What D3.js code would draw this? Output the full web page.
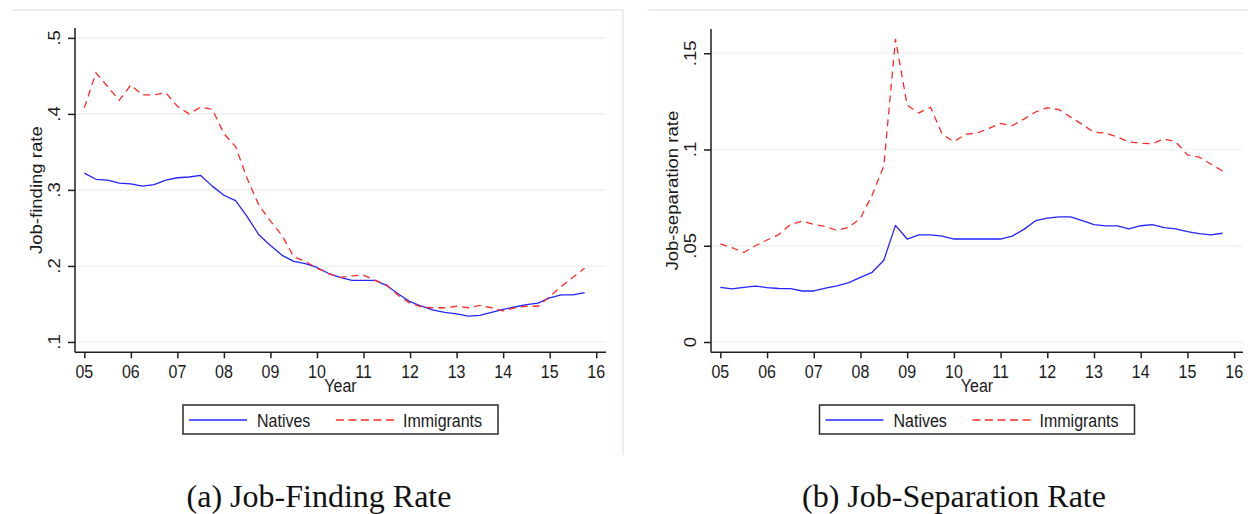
<!DOCTYPE html>
<html>
<head>
<meta charset="utf-8">
<script src="https://cdn.jsdelivr.net/npm/d3@7/dist/d3.min.js"></script>
<style>
  html, body { margin: 0; padding: 0; background: #fff; }
  svg { display: block; }
  .sans { font-family: "Liberation Sans", Arial, sans-serif; fill: #1a1a1a; }
  .serif { font-family: "Liberation Serif", "Times New Roman", serif; fill: #111; }
</style>
</head>
<body>
<svg id="chart" width="1248" height="514"></svg>
<script>
// Quarterly observations, 2005q1 – 2015q4
const quarters = [
  "2005q1","2005q2","2005q3","2005q4","2006q1","2006q2","2006q3","2006q4",
  "2007q1","2007q2","2007q3","2007q4","2008q1","2008q2","2008q3","2008q4",
  "2009q1","2009q2","2009q3","2009q4","2010q1","2010q2","2010q3","2010q4",
  "2011q1","2011q2","2011q3","2011q4","2012q1","2012q2","2012q3","2012q4",
  "2013q1","2013q2","2013q3","2013q4","2014q1","2014q2","2014q3","2014q4",
  "2015q1","2015q2","2015q3","2015q4"
];

// Job-finding rate
const findingNatives = [
  .322, .314, .313, .309, .308, .305, .307, .313,
  .316, .317, .319, .305, .293, .286, .265, .241,
  .227, .214, .206, .203, .198, .190, .185, .181,
  .181, .181, .174, .163, .153, .147, .142, .139,
  .137, .134, .135, .139, .143, .146, .149, .151,
  .158, .162, .162, .165
];
const findingImmigrants = [
  .408, .454, .436, .418, .438, .425, .425, .428,
  .410, .400, .409, .406, .374, .357, .315, .280,
  .259, .240, .212, .206, .197, .190, .185, .187,
  .188, .181, .175, .161, .151, .146, .145, .145,
  .147, .145, .148, .145, .141, .145, .147, .147,
  .160, .173, .185, .197
];

// Job-separation rate
const separationNatives = [
  .0284, .0276, .0284, .0290, .0283, .0278, .0277, .0265,
  .0265, .0280, .0292, .0308, .0336, .0362, .0425, .0606,
  .0535, .0556, .0556, .0550, .0535, .0535, .0535, .0535,
  .0535, .0550, .0585, .0630, .0643, .0650, .0650, .0630,
  .0610, .0603, .0603, .0588, .0604, .0610, .0594, .0588,
  .0573, .0563, .0556, .0565
];
const separationImmigrants = [
  .0510, .0490, .0465, .0500, .0530, .0558, .0610, .0628,
  .0611, .0600, .0580, .0596, .0643, .0764, .0915, .1575,
  .1230, .1190, .1220, .1080, .1040, .1080, .1085, .1110,
  .1136, .1124, .1158, .1195, .1217, .1207, .1168, .1130,
  .1090, .1085, .1065, .1040, .1032, .1030, .1055, .1040,
  .0972, .0960, .0925, .0888
];

// Axis ticks
const yearTicks = [2005, 2006, 2007, 2008, 2009, 2010, 2011, 2012, 2013, 2014, 2015, 2016];
const yearLabels = ["05","06","07","08","09","10","11","12","13","14","15","16"];
const findingTicks = [0.1, 0.2, 0.3, 0.4, 0.5];
const findingTickLabels = [".1", ".2", ".3", ".4", ".5"];
const separationTicks = [0, 0.05, 0.10, 0.15];
const separationTickLabels = ["0", ".05", ".1", ".15"];

const seriesNames = ["Natives", "Immigrants"];
const seriesColors = ["#2424ff", "#ff2a2a"];

const svg = d3.select("#chart");
const TEXT_STRETCH = 1.16;

function quarterToTime(q) {
  const y = +q.slice(0, 4), k = +q.slice(5);
  return y + (k - 1) / 4;
}
const times = quarters.map(quarterToTime);

function drawPanel(cfg) {
  const g = svg.append("g");

  // graph region edge (top and right sides)
  const [fx, fy, fw, fh] = cfg.frame;
  g.append("path")
    .attr("d", `M${fx},${fy}H${fx + fw}V${fy + fh}`)
    .attr("fill", "none").attr("stroke", "#e4eced").attr("stroke-width", 1.5);

  const x = d3.scaleLinear().domain(cfg.xDomain).range([cfg.left, cfg.right]);
  const y = d3.scaleLinear().domain(cfg.yDomain).range([cfg.bottom, cfg.top]);

  // horizontal grid
  g.selectAll(".grid").data(cfg.yTicks).enter().append("line")
    .attr("x1", cfg.left).attr("x2", cfg.right)
    .attr("y1", d => y(d)).attr("y2", d => y(d))
    .attr("stroke", "#edf2f3").attr("stroke-width", 1.6);

  // y axis
  const yAxis = d3.axisLeft(y).tickValues(cfg.yTicks).tickSize(7).tickFormat("");
  const ya = g.append("g").attr("transform", `translate(${cfg.left},0)`).call(yAxis);
  ya.select(".domain").attr("d", `M0,${cfg.top}V${cfg.bottom}`);
  ya.selectAll("path,line").attr("stroke", "#1e1e1e").attr("stroke-width", 1.5);

  cfg.yTicks.forEach((t, i) => {
    g.append("text").attr("class", "sans")
      .attr("transform", `translate(${cfg.left - 21},${y(t)}) rotate(-90) scale(${TEXT_STRETCH},1)`)
      .attr("text-anchor", "middle").attr("dy", "0.36em")
      .style("font-size", "16px").text(cfg.yTickLabels[i]);
  });

  // x axis
  const xAxis = d3.axisBottom(x).tickValues(yearTicks).tickSize(6).tickFormat("");
  const xa = g.append("g").attr("transform", `translate(0,${cfg.bottom})`).call(xAxis);
  xa.select(".domain").attr("d", `M${cfg.left},0H${cfg.right}`);
  xa.selectAll("path,line").attr("stroke", "#1e1e1e").attr("stroke-width", 1.5);

  yearTicks.forEach((t, i) => {
    g.append("text").attr("class", "sans")
      .attr("transform", `translate(${x(t)},${cfg.bottom + 26}) scale(1,${TEXT_STRETCH})`)
      .attr("text-anchor", "middle")
      .style("font-size", "16px").text(yearLabels[i]);
  });

  // axis titles
  const cx = (cfg.left + cfg.right) / 2;
  g.append("text").attr("class", "sans")
    .attr("transform", `translate(${cx},${cfg.bottom + 40}) scale(1,${TEXT_STRETCH})`)
    .attr("text-anchor", "middle").style("font-size", "16px").text("Year");
  g.append("text").attr("class", "sans")
    .attr("transform", `translate(${cfg.left - 39},${(cfg.top + cfg.bottom) / 2}) rotate(-90) scale(${TEXT_STRETCH},1)`)
    .attr("text-anchor", "middle").attr("dy", "0.36em")
    .style("font-size", "16px").text(cfg.yTitle);

  // series lines
  const line = d3.line().x((d, i) => x(times[i])).y(d => y(d));
  g.append("path").datum(cfg.natives)
    .attr("d", line).attr("fill", "none")
    .attr("stroke", seriesColors[0]).attr("stroke-width", 1.3)
    .attr("stroke-linejoin", "round");
  g.append("path").datum(cfg.immigrants)
    .attr("d", line).attr("fill", "none")
    .attr("stroke", seriesColors[1]).attr("stroke-width", 1.3)
    .attr("stroke-dasharray", "7,5");

  // legend
  const lx = cx - 157.5, ly = 405;
  const leg = g.append("g").attr("transform", `translate(${lx},${ly})`);
  leg.append("rect").attr("width", 315).attr("height", 29)
    .attr("fill", "#fff").attr("stroke", "#2a2a2a").attr("stroke-width", 1.5);
  leg.append("line").attr("x1", 6).attr("x2", 64).attr("y1", 15).attr("y2", 15)
    .attr("stroke", seriesColors[0]).attr("stroke-width", 1.4);
  leg.append("text").attr("class", "sans")
    .attr("transform", `translate(74,21.5) scale(1,${TEXT_STRETCH})`)
    .style("font-size", "16px").text(seriesNames[0]);
  leg.append("line").attr("x1", 153).attr("x2", 211).attr("y1", 15).attr("y2", 15)
    .attr("stroke", seriesColors[1]).attr("stroke-width", 1.4)
    .attr("stroke-dasharray", "8,4.5");
  leg.append("text").attr("class", "sans")
    .attr("transform", `translate(220,21.5) scale(1,${TEXT_STRETCH})`)
    .style("font-size", "16px").text(seriesNames[1]);

  // caption
  svg.append("text").attr("class", "serif")
    .attr("x", cfg.captionX).attr("y", 507)
    .attr("text-anchor", "middle").style("font-size", "32px")
    .text(cfg.caption);
}

drawPanel({
  frame: [11, 10, 612, 445],
  left: 75, right: 606, top: 28, bottom: 352.3,
  xDomain: [2004.8, 2016.21],
  yDomain: [0.0864, 0.513],
  yTicks: findingTicks, yTickLabels: findingTickLabels,
  yTitle: "Job-finding rate",
  natives: findingNatives, immigrants: findingImmigrants,
  caption: "(a) Job-Finding Rate", captionX: 319
});

drawPanel({
  frame: [647, 10, 612, 445],
  left: 711, right: 1243, top: 29, bottom: 352.3,
  xDomain: [2004.8, 2016.19],
  yDomain: [-0.00535, 0.1626],
  yTicks: separationTicks, yTickLabels: separationTickLabels,
  yTitle: "Job-separation rate",
  natives: separationNatives, immigrants: separationImmigrants,
  caption: "(b) Job-Separation Rate", captionX: 954
});
</script>
</body>
</html>
